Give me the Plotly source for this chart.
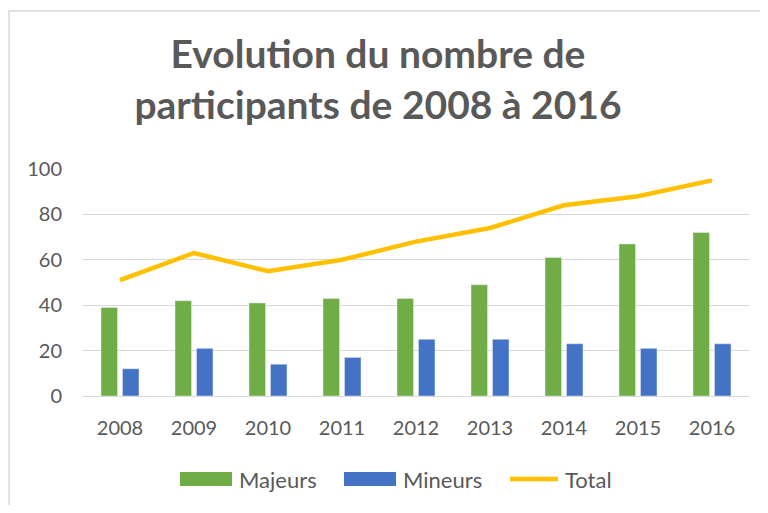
import plotly.graph_objects as go

years = ["2008", "2009", "2010", "2011", "2012", "2013", "2014", "2015", "2016"]
majeurs = [39, 42, 41, 43, 43, 49, 61, 67, 72]
mineurs = [12, 21, 14, 17, 25, 25, 23, 21, 23]
total = [51, 63, 55, 60, 68, 74, 84, 88, 95]
series_names = ["Majeurs", "Mineurs", "Total"]
colors = ["#70AD47", "#4472C4", "#FFC000"]

FONT = "Lato"
TXT = "#595959"

OFF = 8  # page body margin
W, H = 768 - 2 * OFF, 513 - 2 * OFF
# plot area in page pixels
PX0, PX1, PY0, PY1 = 83, 749, 169, 396
L, R = PX0 - OFF, W - (PX1 - OFF)
T, B = PY0 - OFF, H - (PY1 - OFF)
pw, ph = PX1 - PX0, PY1 - PY0

def px_x(p):
    return (p - PX0) / pw

def px_y(p):
    return (PY1 - p) / ph

fig = go.Figure()
fig.add_trace(go.Bar(x=years, y=majeurs, name=series_names[0], marker_color=colors[0]))
fig.add_trace(go.Bar(x=years, y=mineurs, name=series_names[1], marker_color=colors[1]))
fig.add_trace(go.Scatter(x=years, y=total, name=series_names[2], mode="lines",
                         line=dict(color=colors[2], width=4.5)))

shapes = [dict(type="rect", xref="paper", yref="paper",
               x0=px_x(9), x1=px_x(790), y0=px_y(11), y1=px_y(530),
               line=dict(color="#D9D9D9", width=1.5), fillcolor="rgba(0,0,0,0)",
               layer="below")]
annotations = []
# custom legend (page pixel layout)
leg_y = 479
keys = [(180, 232, 237), (344, 396, 401), (508, 560, 563)]
for i, (k0, k1, tx) in enumerate(keys):
    if i < 2:
        shapes.append(dict(type="rect", xref="paper", yref="paper",
                           x0=px_x(k0), x1=px_x(k1), y0=px_y(leg_y + 7), y1=px_y(leg_y - 7),
                           line=dict(width=0), fillcolor=colors[i]))
    else:
        shapes.append(dict(type="line", xref="paper", yref="paper",
                           x0=px_x(k0 + 2), x1=px_x(k1 - 2), y0=px_y(leg_y), y1=px_y(leg_y),
                           line=dict(width=4.5, color=colors[i])))
    annotations.append(dict(xref="paper", yref="paper", x=px_x(tx), y=px_y(leg_y),
                            xanchor="left", yanchor="middle", showarrow=False,
                            text=series_names[i], font=dict(size=22, color=TXT, family=FONT)))

fig.update_layout(
    width=W, height=H,
    margin=dict(l=L, r=R, t=T, b=B),
    paper_bgcolor="white", plot_bgcolor="white",
    font=dict(family=FONT, color=TXT, size=20),
    title=dict(text="Evolution du nombre de<br>participants de 2008 à 2016",
               x=(378 - OFF) / W, xanchor="center", y=1 - (68 - OFF) / H, yanchor="middle",
               font=dict(family=FONT, size=39, color=TXT, weight="bold")),
    barmode="group", bargap=0.42, bargroupgap=0.23,
    showlegend=False,
    xaxis=dict(showgrid=False, showline=False, ticks="", tickfont=dict(size=20, color=TXT),
               ticklabelstandoff=18),
    yaxis=dict(range=[0, 100], dtick=20, showgrid=True, gridcolor="#D9D9D9", gridwidth=1.3,
               zeroline=True, zerolinecolor="#D9D9D9", zerolinewidth=1.3,
               showline=False, ticks="", tickfont=dict(size=20, color=TXT),
               ticklabelstandoff=20),
    shapes=shapes,
    annotations=annotations,
)

fig.write_html("out.html")
